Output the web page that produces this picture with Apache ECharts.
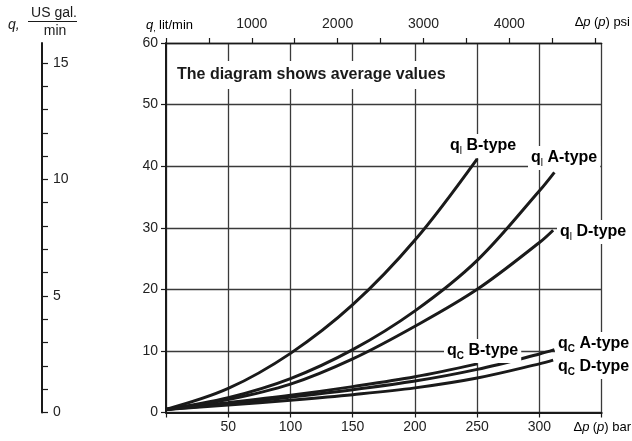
<!DOCTYPE html>
<html>
<head>
<meta charset="utf-8">
<script src="https://cdn.jsdelivr.net/npm/echarts@6/dist/echarts.min.js"></script>
<style>html,body{margin:0;padding:0;background:#fff}#c{width:632px;height:441px}</style>
</head>
<body>
<div id="c"></div>
<script>
// ---- data (bar -> lit/min) ----
const pB = [0, 50, 100, 150, 200, 250];
const pA = [0, 50, 100, 150, 200, 250, 300, 312];
const pD = [0, 50, 100, 150, 200, 250, 300, 311];
const qlB = [0.5, 3.9, 9.6, 17.5, 28.0, 41.2];
const qlA = [0.5, 2.4, 5.5, 10.2, 16.5, 24.7, 36.0, 39.0];
const qlD = [0.5, 2.1, 4.6, 8.7, 14.0, 20.0, 27.6, 29.6];
const qcB = [0.5, 1.6, 2.8, 4.2, 5.8, 7.9];
const qcA = [0.5, 1.4, 2.5, 3.7, 5.1, 7.0, 9.5, 10.2];
const qcD = [0.5, 1.2, 2.0, 2.9, 4.0, 5.6, 7.9, 8.5];
// ---- axes ----
const psiTicks = [0, 500, 1000, 1500, 2000, 2500, 3000, 3500, 4000, 4500, 5000];
const psiLabels = [1000, 2000, 3000, 4000];
const galTicks = [0, 1, 2, 3, 4, 5, 6, 7, 8, 9, 10, 11, 12, 13, 14, 15];
const galLabels = [0, 5, 10, 15];
const PSI_PER_BAR = 14.5038;
const LIT_PER_GAL = 3.78541;

const FF = "'Liberation Sans', Arial, Helvetica, sans-serif";
const INK = '#1a1a1a';
const pair = (xs, ys) => xs.map((x, i) => [x, ys[i]]);

const chart = echarts.init(document.getElementById('c'), null, {renderer: 'canvas'});

const lblStyle = {fontFamily: FF, fontSize: 14, color: '#222'};

function curve(xs, ys) {
  return {
    type: 'line', xAxisIndex: 0, yAxisIndex: 0, data: pair(xs, ys),
    smooth: 0.35, symbol: 'none', silent: true,
    lineStyle: {color: INK, width: 3}, z: 5
  };
}

function curveLabel(x, y, sub, rest) {
  return {
    type: 'text', x: x, y: y, z: 100,
    style: {
      text: '{q|q}{s|' + sub + '}{t| ' + rest + '}',
      verticalAlign: 'middle', align: 'left',
      backgroundColor: '#fff', padding: [2, 3],
      rich: {
        q: {fontFamily: FF, fontSize: 16, fontWeight: 'bold', color: INK, lineHeight: 20},
        s: {fontFamily: FF, fontSize: 10, fontWeight: sub === 'C' ? 'bold' : 'normal', color: INK, lineHeight: 12, verticalAlign: 'bottom'},
        t: {fontFamily: FF, fontSize: 16, fontWeight: 'bold', color: INK, lineHeight: 20}
      }
    }
  };
}

const option = {
  animation: false,
  backgroundColor: '#fff',
  grid: {left: 166, right: 30.3, top: 43, bottom: 28.5, containLabel: false},
  xAxis: [
    {
      type: 'value', position: 'bottom', min: 0, max: 350, interval: 50,
      axisLine: {show: true, onZero: false, lineStyle: {color: INK, width: 2}},
      axisTick: {show: true, length: 5, lineStyle: {color: INK, width: 1.2}},
      axisLabel: Object.assign({margin: 8, formatter: v => (v > 0 && v < 350) ? String(v) : ''}, lblStyle),
      splitLine: {show: true, lineStyle: {color: '#3a3a3a', width: 1.3}}
    },
    {
      type: 'value', position: 'top', min: 0, max: 350 * PSI_PER_BAR,
      axisLine: {show: true, onZero: false, lineStyle: {color: INK, width: 1.3}},
      axisTick: {show: true, length: 5, customValues: psiTicks, lineStyle: {color: INK, width: 1.2}},
      axisLabel: Object.assign({margin: 12, customValues: psiLabels, formatter: v => String(v)}, lblStyle),
      splitLine: {show: false}
    }
  ],
  yAxis: [
    {
      type: 'value', position: 'left', min: 0, max: 60, interval: 10,
      axisLine: {show: true, onZero: false, lineStyle: {color: INK, width: 2}},
      axisTick: {show: true, length: 5, lineStyle: {color: INK, width: 1.2}},
      axisLabel: Object.assign({margin: 8}, lblStyle),
      splitLine: {show: true, lineStyle: {color: '#3a3a3a', width: 1.3}}
    },
    {
      type: 'value', position: 'left', offset: 124, min: 0, max: 60 / LIT_PER_GAL,
      axisLine: {show: true, onZero: false, lineStyle: {color: INK, width: 2}},
      axisTick: {show: true, inside: true, length: 6, customValues: galTicks, lineStyle: {color: INK, width: 1.2}},
      axisLabel: Object.assign({inside: true, margin: 11, customValues: galLabels, formatter: v => String(v)}, lblStyle),
      splitLine: {show: false}
    }
  ],
  series: [
    curve(pB, qlB), curve(pA, qlA), curve(pD, qlD),
    curve(pB, qcB), curve(pA, qcA), curve(pD, qcD)
  ],
  graphic: {
    elements: [
      // gal header
      {type: 'text', x: 8, y: 25, z: 100, style: {text: 'q,', font: 'italic 14px ' + FF, fill: INK, verticalAlign: 'middle'}},
      {type: 'text', x: 54, y: 13, z: 100, style: {text: 'US gal.', font: '14px ' + FF, fill: INK, align: 'center', verticalAlign: 'middle'}},
      {type: 'line', z: 100, shape: {x1: 28, y1: 21.5, x2: 77, y2: 21.5}, style: {stroke: INK, lineWidth: 1}},
      {type: 'text', x: 55, y: 31, z: 100, style: {text: 'min', font: '14px ' + FF, fill: INK, align: 'center', verticalAlign: 'middle'}},
      // lit/min header
      {type: 'text', x: 146, y: 25, z: 100, style: {
        text: '{i|q}{s|,} {n|lit/min}', verticalAlign: 'middle',
        rich: {
          i: {fontFamily: FF, fontStyle: 'italic', fontSize: 13, color: INK, lineHeight: 16},
          s: {fontFamily: FF, fontSize: 9, color: INK, lineHeight: 10, verticalAlign: 'bottom'},
          n: {fontFamily: FF, fontSize: 13, color: INK, lineHeight: 16}
        }}},
      // unit labels
      {type: 'text', x: 630, y: 22, z: 100, style: {
        text: '{n|Δ}{i|p} {n|(}{i|p}{n|) psi}', align: 'right', verticalAlign: 'middle',
        rich: {
          i: {fontFamily: FF, fontStyle: 'italic', fontSize: 13, color: INK},
          n: {fontFamily: FF, fontSize: 13, color: INK}
        }}},
      {type: 'text', x: 631, y: 427, z: 100, style: {
        text: '{n|Δ}{i|p} {n|(}{i|p}{n|) bar}', align: 'right', verticalAlign: 'middle',
        rich: {
          i: {fontFamily: FF, fontStyle: 'italic', fontSize: 13, color: INK},
          n: {fontFamily: FF, fontSize: 13, color: INK}
        }}},
      // note
      {type: 'text', x: 173, y: 75, z: 100, style: {
        text: 'The diagram shows average values', font: 'bold 16px ' + FF, fill: INK,
        verticalAlign: 'middle', backgroundColor: '#fff', padding: [6, 4]}},
      // curve labels
      curveLabel(447, 146, 'l', 'B-type'),
      curveLabel(528, 158, 'l', 'A-type'),
      curveLabel(557, 232, 'l', 'D-type'),
      curveLabel(444, 351, 'C', 'B-type'),
      curveLabel(555, 344, 'C', 'A-type'),
      curveLabel(555, 367, 'C', 'D-type')
    ]
  }
};
chart.setOption(option);
</script>
</body>
</html>
